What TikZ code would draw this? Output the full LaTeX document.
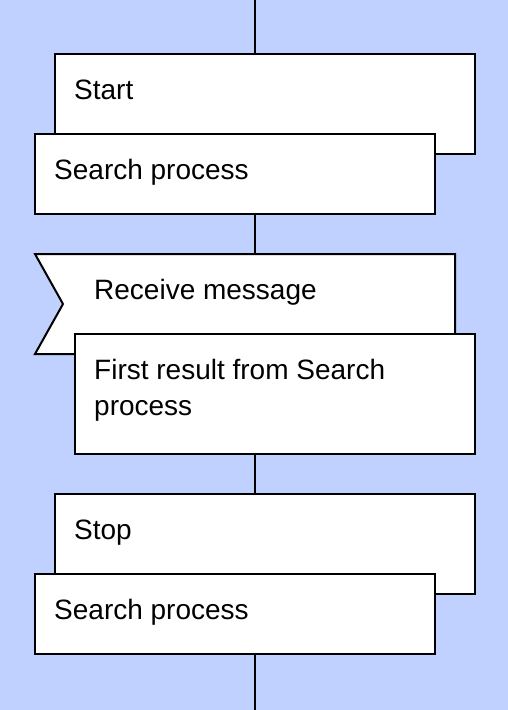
\documentclass[tikz,border=0pt]{standalone}
\usepackage{fontspec}
\setmainfont{Liberation Sans}

\definecolor{paleblue}{RGB}{192,208,255}
\tikzstyle{frame}=[rectangle,inner sep=0pt,outer sep=0pt,anchor=north west]
\tikzstyle{box}=[frame,draw=black,line width=2pt,fill=white]
\tikzstyle{outline}=[draw=black,line width=2pt,fill=white]
\tikzstyle{box text}=[anchor=base west,inner sep=0pt,font=\fontsize{28}{36}\selectfont,align=flush left]
\tikzstyle{flow edge}=[draw,line width=2pt,-]

\begin{document}
\begin{tikzpicture}[x=1pt,y=-1pt]
	\fill[paleblue] (0,0) rectangle (508,710);
	\useasboundingbox (0,0) rectangle (508,710);
	\coordinate (top) at (255,0);
	\coordinate (bottom) at (255,710);
			% Start, then Search process
			\node[box,minimum width=420pt,minimum height=100pt] (start) at (55,54) {};
			\node[box text] (startText) at ([shift={(19pt,-45pt)}]start.north west) {Start};
			\node[box,minimum width=400pt,minimum height=80pt] (search1) at (35,134) {};
			\node[box text] (search1Text) at ([shift={(19pt,-45pt)}]search1.north west) {Search process};
			% Receive message with notch
			\node[frame,minimum width=420pt,minimum height=100pt] (recv) at (35,254) {};
			\path[outline] (recv.north west) -- (recv.north east) -- (recv.south east)
				-- (recv.south west) -- ([xshift=28pt]recv.west) -- cycle;
			\node[box text] (recvText) at ([shift={(59pt,-45pt)}]recv.north west) {Receive message};
			\node[box,minimum width=400pt,minimum height=120pt] (result) at (75,334) {};
			\node[box text,text width=360pt] (resultText) at ([shift={(19pt,-45pt)}]result.north west) {First result from Search\\process};
			% Stop, then Search process
			\node[box,minimum width=420pt,minimum height=100pt] (stop) at (55,494) {};
			\node[box text] (stopText) at ([shift={(19pt,-45pt)}]stop.north west) {Stop};
			\node[box,minimum width=400pt,minimum height=80pt] (search2) at (35,574) {};
			\node[box text] (search2Text) at ([shift={(19pt,-45pt)}]search2.north west) {Search process};
			% Connect the boxes
			\path[flow edge] (top) -- (top |- start.north);
			\foreach \source/ \dest in {search1/recv,result/stop}
				\path[flow edge] (top |- \source.south) -- (top |- \dest.north);
			\path[flow edge] (top |- search2.south) -- (bottom);
\end{tikzpicture}
\end{document}
